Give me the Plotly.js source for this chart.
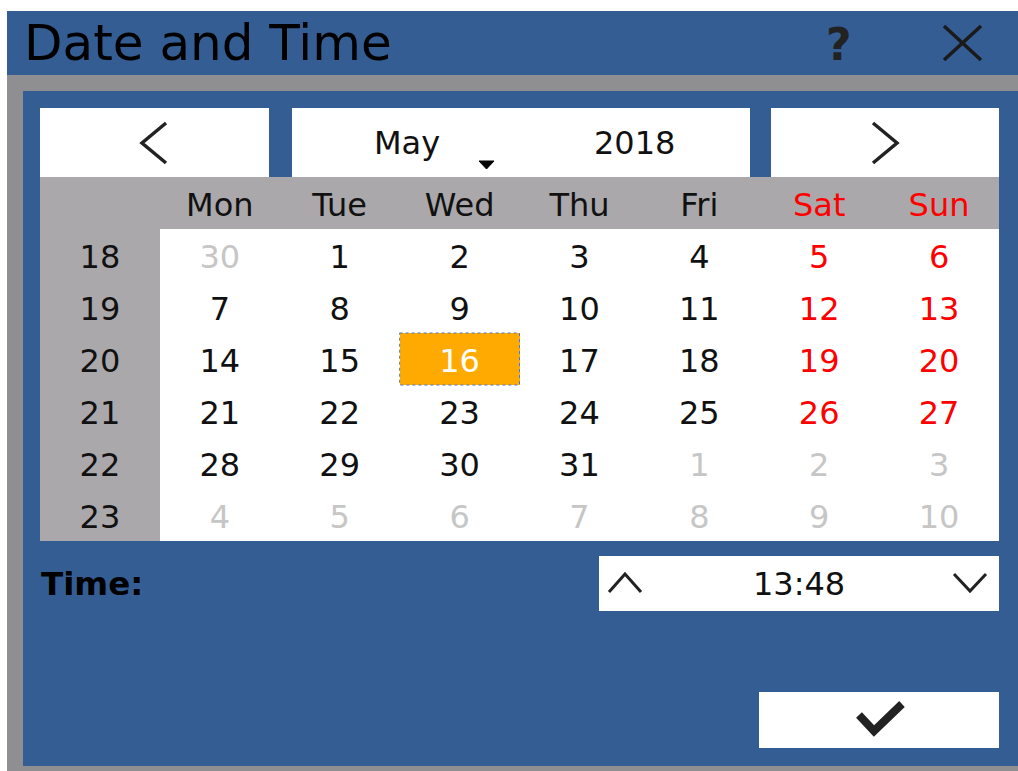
<!DOCTYPE html>
<html>
<head>
<meta charset="utf-8">
<script src="https://cdn.plot.ly/plotly-3.0.1.min.js"></script>
<style>html,body{margin:0;padding:0;background:#fff;}#chart{width:1018px;height:771px;}</style>
</head>
<body>
<div id="chart"></div>
<script>
// ---- data ----
const titleText = 'Date and Time';
const monthName = 'May';
const yearText = '2018';
const timeLabel = 'Time:';
const timeValue = '13:48';
const weekdays = ['Mon', 'Tue', 'Wed', 'Thu', 'Fri', 'Sat', 'Sun'];
const weekendFlags = [0, 0, 0, 0, 0, 1, 1];
const weekNumbers = [18, 19, 20, 21, 22, 23];
const week18 = [30, 1, 2, 3, 4, 5, 6];
const week19 = [7, 8, 9, 10, 11, 12, 13];
const week20 = [14, 15, 16, 17, 18, 19, 20];
const week21 = [21, 22, 23, 24, 25, 26, 27];
const week22 = [28, 29, 30, 31, 1, 2, 3];
const week23 = [4, 5, 6, 7, 8, 9, 10];
const inMonth18 = [0, 1, 1, 1, 1, 1, 1];
const inMonth19 = [1, 1, 1, 1, 1, 1, 1];
const inMonth20 = [1, 1, 1, 1, 1, 1, 1];
const inMonth21 = [1, 1, 1, 1, 1, 1, 1];
const inMonth22 = [1, 1, 1, 1, 0, 0, 0];
const inMonth23 = [0, 0, 0, 0, 0, 0, 0];
const selectedDay = 16;

const weeks = [week18, week19, week20, week21, week22, week23];
const inMonth = [inMonth18, inMonth19, inMonth20, inMonth21, inMonth22, inMonth23];

// ---- style ----
const W = 1018, H = 771;
const BLUE = '#335d93', FRAME = '#8f8e90', HEAD = '#aaa8ab', ORANGE = '#ffaa00';
const RED = '#ff0000', DIM = '#c6c6c6', INK = '#111111', FONT = 'DejaVu Sans, Verdana, sans-serif';
const TEXT_SHIFT = 0.09; // vertical text offset within a cell (fraction of a row)
const px = v => v / W;
const py = v => 1 - v / H;

// ---- heatmap grid (8 columns x 7 rows) ----
const z = [];
z.push(new Array(8).fill(0));
let selCol = -1, selRow = -1;
weeks.forEach((wk, r) => {
  const row = [0];
  wk.forEach((d, c) => {
    const sel = d === selectedDay && inMonth[r][c] === 1;
    if (sel) { selCol = c + 1; selRow = r + 1; }
    row.push(sel ? 2 : 1);
  });
  z.push(row);
});

const tx = [], ty = [], tt = [], tc = [];
weekdays.forEach((d, c) => { tx.push(c + 1); ty.push(0); tt.push(d); tc.push(weekendFlags[c] ? RED : INK); });
weekNumbers.forEach((n, r) => { tx.push(0); ty.push(r + 1); tt.push(String(n)); tc.push(INK); });
weeks.forEach((wk, r) => wk.forEach((d, c) => {
  tx.push(c + 1); ty.push(r + 1); tt.push(String(d));
  let col = INK;
  if (!inMonth[r][c]) col = DIM;
  else if (d === selectedDay) col = '#ffffff';
  else if (weekendFlags[c]) col = RED;
  tc.push(col);
}));

const traces = [
  {
    type: 'heatmap', z: z, x: [0,1,2,3,4,5,6,7], y: [0,1,2,3,4,5,6],
    xaxis: 'x2', yaxis: 'y2', zmin: 0, zmax: 2, showscale: false, hoverinfo: 'skip',
    colorscale: [[0, HEAD], [0.5, '#ffffff'], [1, ORANGE]]
  },
  {
    type: 'scatter', mode: 'text', x: tx, y: ty, text: tt, xaxis: 'x2', yaxis: 'y3',
    textposition: 'middle center', hoverinfo: 'skip',
    textfont: { family: FONT, size: 32, color: tc }
  }
];

function rect(x0, y0, x1, y1, fill, layer) {
  return { type: 'rect', xref: 'paper', yref: 'paper', x0: px(x0), x1: px(x1), y0: py(y1), y1: py(y0),
    fillcolor: fill, line: { width: 0 }, layer: layer || 'below' };
}
function pathShape(pts, color, width, fill) {
  const d = pts.map((p, i) => (i ? 'L' : 'M') + px(p[0]) + ',' + py(p[1])).join(' ') + (fill ? ' Z' : '');
  return { type: 'path', xref: 'paper', yref: 'paper', path: d,
    line: { color: color, width: width }, fillcolor: fill || 'rgba(0,0,0,0)', layer: 'above' };
}

const shapes = [
  rect(7, 11, 1018, 75, BLUE),
  rect(7, 75, 1018, 771, FRAME),
  rect(23, 91, 1018, 766, BLUE),
  rect(40, 108, 269, 177, '#ffffff'),
  rect(292, 108, 750, 177, '#ffffff'),
  rect(771, 108, 999, 177, '#ffffff'),
  rect(599, 556, 999, 611, '#ffffff'),
  rect(759, 692, 999, 748, '#ffffff'),
  // icons
  pathShape([[166, 123], [142, 143], [166, 163]], '#222', 3.5),
  pathShape([[873, 123], [897, 143], [873, 163]], '#222', 3.5),
  pathShape([[479, 161], [494, 161], [486.5, 169]], '#000', 1, '#000'),
  pathShape([[609, 592], [625, 574], [641, 592]], '#222', 3),
  pathShape([[954, 574], [970, 591], [986, 574]], '#222', 3),
  pathShape([[944, 26], [981, 60]], '#1a1a1a', 3.5),
  pathShape([[981, 26], [944, 60]], '#1a1a1a', 3.5),
  pathShape([[859, 715], [874, 731], [902, 704]], '#222', 8),
  // focus frame of selected day
  { type: 'rect', xref: 'x2', yref: 'y2', x0: selCol - 0.5, x1: selCol + 0.5, y0: selRow - 0.5, y1: selRow + 0.5,
    line: { color: '#4a78c8', width: 1, dash: 'dot' }, fillcolor: 'rgba(0,0,0,0)', layer: 'above' }
];

function ann(text, x, y, size, opts) {
  return Object.assign({ text: text, xref: 'paper', yref: 'paper', x: px(x), y: py(y),
    xanchor: 'center', yanchor: 'middle', showarrow: false, borderpad: 0,
    font: { family: FONT, size: size, color: INK } }, opts || {});
}

const annotations = [
  ann(titleText, 23, 43, 50, { xanchor: 'left', font: { family: FONT, size: 50, color: '#000' } }),
  ann('?', 839, 44, 44, { font: { family: FONT, size: 44, color: '#222', weight: 'bold' } }),
  ann(monthName, 407, 143, 32),
  ann(yearText, 634, 143, 32),
  ann(timeLabel, 40, 584, 32.5, { xanchor: 'left', font: { family: FONT, size: 32.5, color: '#000', weight: 'bold' } }),
  ann(timeValue, 799, 584, 32)
];

const layout = {
  width: W, height: H, margin: { l: 0, r: 0, t: 0, b: 0 },
  paper_bgcolor: '#ffffff', plot_bgcolor: 'rgba(0,0,0,0)', showlegend: false,
  xaxis2: { domain: [px(40), px(999)], range: [-0.5, 7.5], visible: false, fixedrange: true, anchor: 'y2' },
  yaxis2: { domain: [py(541), py(177)], range: [6.5, -0.5], visible: false, fixedrange: true, anchor: 'x2' },
  yaxis3: { domain: [py(541), py(177)], range: [6.5 - TEXT_SHIFT, -0.5 - TEXT_SHIFT], visible: false,
            fixedrange: true, anchor: 'x2', overlaying: 'y2' },
  shapes: shapes, annotations: annotations
};

Plotly.newPlot('chart', traces, layout, { displayModeBar: false, staticPlot: true });
</script>
</body>
</html>
